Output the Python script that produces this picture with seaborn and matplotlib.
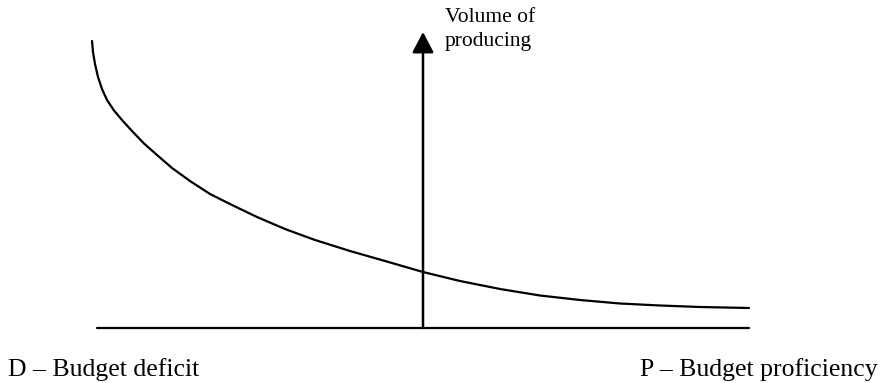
import pandas as pd
import seaborn as sns
import matplotlib.pyplot as plt

# curve (x relative to the vertical axis, y above the horizontal axis)
curve_x = [-331, -330, -328, -325, -321, -316, -309, -301, -291, -279, -266, -251, -233, -213,
           -191, -166, -138, -108, -73, -38, 0, 37, 77, 117, 157, 197, 237, 277, 326]
curve_y = [287, 276, 264, 251, 239, 228, 217.5, 208, 197, 184.5, 173, 160, 147, 134,
           123, 111, 99, 88, 77, 67, 56, 47, 39, 32.5, 28, 24.5, 22.5, 21, 20]

axis_x = [-326, 326]
arrow_top = 296

y_label = ['Volume of', 'producing']
left_label = 'D \u2013 Budget deficit'
right_label = 'P \u2013 Budget proficiency'

sns.set_theme(style='white')
plt.rcParams['font.family'] = ['Liberation Serif', 'DejaVu Serif']

fig = plt.figure(figsize=(8.81, 3.83), dpi=100)
ax = fig.add_axes([0, 0, 1, 1])
ax.set_xlim(-423, 458)
ax.set_ylim(-55, 328)
ax.axis('off')

df = pd.DataFrame({'x': curve_x, 'y': curve_y})
sns.lineplot(data=df, x='x', y='y', color='black', linewidth=1.6, sort=False, ax=ax,
             solid_joinstyle='round')

# horizontal axis
sns.lineplot(x=axis_x, y=[0, 0], color='black', linewidth=1.6, ax=ax)

# vertical arrow
ax.annotate('', xy=(0, arrow_top), xytext=(0, 0),
            arrowprops=dict(arrowstyle='-|>,head_length=1.05,head_width=0.55',
                            lw=1.8, color='black', shrinkA=0, shrinkB=0))

ax.text(22, 306, y_label[0], fontsize=15.5, va='baseline', ha='left', color='black')
ax.text(22, 282, y_label[1], fontsize=15.5, va='baseline', ha='left', color='black')

ax.text(-415, -48, left_label, fontsize=18.5, va='baseline', ha='left', color='black')
ax.text(455, -48, right_label, fontsize=18.5, va='baseline', ha='right', color='black')

plt.savefig('out.png', dpi=100)
